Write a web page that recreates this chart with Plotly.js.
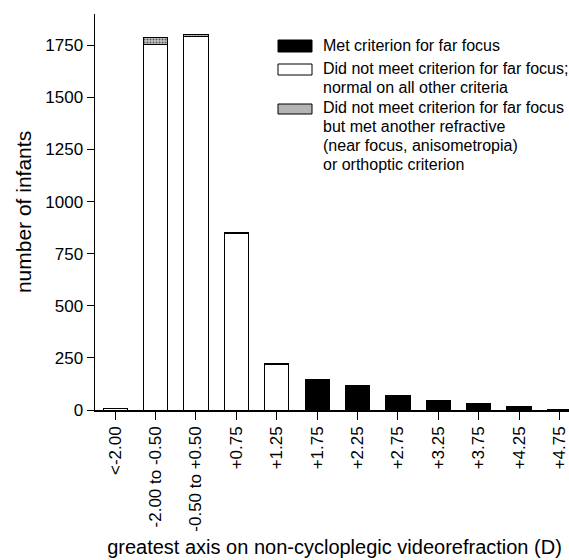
<!DOCTYPE html>
<html>
<head>
<meta charset="utf-8">
<script src="https://cdn.plot.ly/plotly-3.0.1.min.js"></script>
<style>
html, body { margin: 0; padding: 0; overflow: hidden; background: #fff; }
#chart { width: 600px; height: 560px; }
</style>
</head>
<body>
<div id="chart"></div>
<script>
// Categories: greatest axis on non-cycloplegic videorefraction (D)
const categories = ['<-2.00', '-2.00 to -0.50', '-0.50 to +0.50', '+0.75', '+1.25', '+1.75',
                    '+2.25', '+2.75', '+3.25', '+3.75', '+4.25', '+4.75'];
// Did not meet criterion for far focus; normal on all other criteria
const normalOther = [5, 1756, 1793, 845, 220, 0, 0, 0, 0, 0, 0, 0];
// Did not meet far focus but met another refractive or orthoptic criterion
const metOther = [0, 29, 11, 7, 0, 0, 0, 0, 0, 0, 0, 0];
// Met criterion for far focus
const metFar = [0, 0, 0, 0, 3, 146, 119, 71, 44, 30, 15, 4];

const legendLabels = [
  ['Met criterion for far focus'],
  ['Did not meet criterion for far focus;', 'normal on all other criteria'],
  ['Did not meet criterion for far focus', 'but met another refractive', '(near focus, anisometropia)', 'or orthoptic criterion']
];

const FONT = 'Arial, "Liberation Sans", Helvetica, sans-serif';
const nz = a => a.map(v => (v === 0 ? null : v));

const W = 600, H = 560;
const mL = 95, mT = 14, mB = 150, plotRight = 574;
const mR = W - plotRight;
const pw = plotRight - mL, ph = H - mT - mB;
const px = x => (x - mL) / pw;
const py = y => (H - mB - y) / ph;

const barLine = { color: '#000', width: 1 };
const traces = [
  { type: 'bar', name: legendLabels[1].join(' '), x: categories, y: nz(normalOther),
    marker: { color: '#ffffff', line: barLine }, width: 0.6, showlegend: false, hoverinfo: 'x+y' },
  { type: 'bar', name: legendLabels[2].join(' '), x: categories, y: nz(metOther),
    marker: { color: '#b8b8b8', line: barLine,
              pattern: { shape: '.', size: 3, solidity: 0.35, fgcolor: '#555', bgcolor: '#c8c8c8' } },
    width: 0.6, showlegend: false, hoverinfo: 'x+y' },
  { type: 'bar', name: legendLabels[0].join(' '), x: categories, y: nz(metFar),
    marker: { color: '#000000', line: barLine }, width: 0.6, showlegend: false, hoverinfo: 'x+y' }
];

// custom legend (swatches + text)
const swatches = [
  { y0: 40, y1: 52, fill: '#000000' },
  { y0: 64, y1: 75, fill: '#ffffff' },
  { y0: 104, y1: 114, fill: '#b4b4b4' }
];
const shapes = swatches.map(s => ({
  type: 'rect', xref: 'paper', yref: 'paper',
  x0: px(278), x1: px(312), y0: py(s.y1), y1: py(s.y0),
  fillcolor: s.fill, line: { color: '#000', width: 1 }
}));
const lineY = [[46], [69, 87], [108, 126, 145, 164]];
const annotations = [];
legendLabels.forEach((grp, gi) => {
  grp.forEach((t, li) => {
    annotations.push({
      text: t, xref: 'paper', yref: 'paper', x: px(321), y: py(lineY[gi][li]),
      xanchor: 'left', yanchor: 'middle', showarrow: false,
      font: { family: FONT, size: 16, color: '#000' }
    });
  });
});

const layout = {
  width: W, height: H,
  margin: { l: mL, r: mR, t: mT, b: mB, pad: 0 },
  paper_bgcolor: '#fff', plot_bgcolor: '#fff',
  barmode: 'stack',
  showlegend: false,
  font: { family: FONT, color: '#000', size: 16 },
  xaxis: {
    type: 'category', range: [-0.5, 11.36],
    showline: true, linecolor: '#000', linewidth: 1.5,
    ticks: 'outside', ticklen: 8, tickcolor: '#000', tickwidth: 1,
    tickangle: -90, tickfont: { family: FONT, size: 17, color: '#000' },
    showgrid: false, zeroline: false,
    title: { text: 'greatest axis on non-cycloplegic videorefraction (D)',
             font: { family: FONT, size: 20, color: '#000' }, standoff: 9 }
  },
  yaxis: {
    range: [0, 1900], tickvals: [0, 250, 500, 750, 1000, 1250, 1500, 1750],
    showline: true, linecolor: '#000', linewidth: 1.5,
    ticks: 'outside', ticklen: 7, tickcolor: '#000', tickwidth: 1,
    tickfont: { family: FONT, size: 17, color: '#000' },
    showgrid: false, zeroline: false,
    title: { text: 'number of infants', font: { family: FONT, size: 21, color: '#000' }, standoff: 8 }
  },
  shapes: shapes,
  annotations: annotations
};

Plotly.newPlot('chart', traces, layout, { displayModeBar: false, staticPlot: true });
</script>
</body>
</html>
